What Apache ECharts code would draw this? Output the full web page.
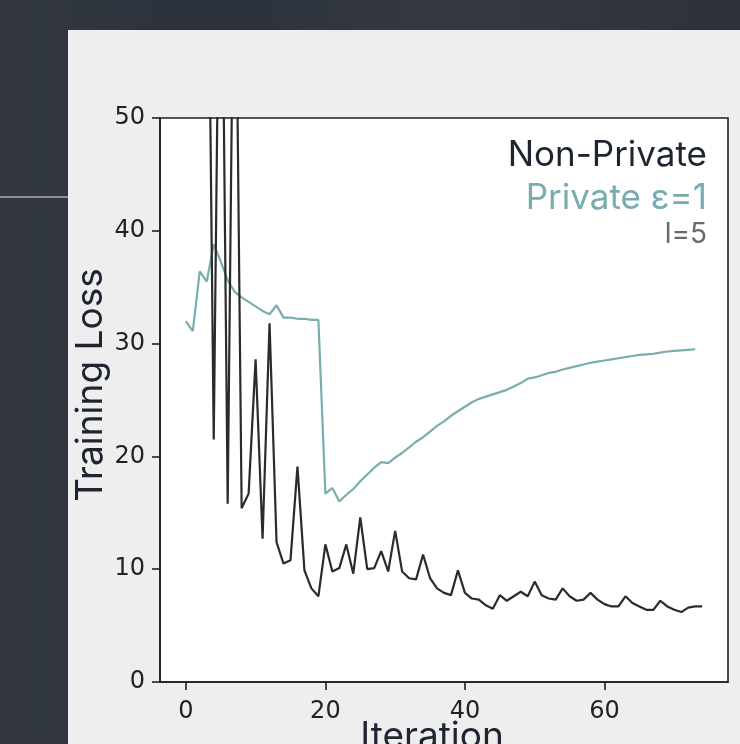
<!DOCTYPE html>
<html>
<head>
<meta charset="utf-8">
<script src="https://cdn.jsdelivr.net/npm/echarts@6/dist/echarts.min.js"></script>
<style>
  html, body { margin: 0; padding: 0; width: 740px; height: 744px; overflow: hidden;
    background: linear-gradient(90deg, #32373f 0%, #2b323c 30%, #353941 60%, #2d3139 100%); }
  #panel { position: absolute; left: 68px; top: 30px; width: 672px; height: 714px; background: #eeeeee; }
  #rule { position: absolute; left: 0; top: 196px; width: 68px; height: 2px; background: #8c8f94; }
  #chart { position: absolute; left: 0; top: 0; width: 740px; height: 744px; }
</style>
</head>
<body>
<div id="panel"></div>
<div id="rule"></div>
<div id="chart"></div>
<script>
// Iteration indices
const iterations = [0,1,2,3,4,5,6,7,8,9,10,11,12,13,14,15,16,17,18,19,20,21,22,23,24,25,26,27,28,29,
  30,31,32,33,34,35,36,37,38,39,40,41,42,43,44,45,46,47,48,49,50,51,52,53,54,55,56,57,58,59,
  60,61,62,63,64,65,66,67,68,69,70,71,72,73,74];

// Non-Private training loss (first values are off the top of the chart)
const nonPrivate = [140,120,100,80,21.5,78,15.8,75,15.4,16.7,28.6,12.7,31.8,12.4,10.5,10.8,19.1,9.9,8.3,7.6,
  12.2,9.8,10.1,12.2,9.6,14.6,10.0,10.1,11.6,9.8,13.4,9.8,9.2,9.1,11.3,9.2,8.3,7.9,7.7,9.9,
  7.9,7.4,7.3,6.8,6.5,7.7,7.2,7.6,8.0,7.6,8.9,7.7,7.4,7.3,8.3,7.6,7.2,7.3,7.9,7.3,
  6.9,6.7,6.7,7.6,7.0,6.7,6.4,6.4,7.2,6.7,6.4,6.2,6.6,6.7,6.7];

// Private (epsilon = 1) training loss
const privateEps1 = [32.0,31.1,36.4,35.5,38.8,37.3,35.6,34.6,34.1,33.7,33.3,32.9,32.6,33.4,32.3,32.3,32.2,32.2,32.1,32.1,
  16.7,17.2,16.0,16.6,17.1,17.8,18.4,19.0,19.5,19.4,19.9,20.3,20.8,21.3,21.7,22.2,22.7,23.1,23.6,24.0,
  24.4,24.8,25.1,25.3,25.5,25.7,25.9,26.2,26.5,26.9,27.0,27.2,27.4,27.5,27.7,27.85,28.0,28.15,28.3,28.4,
  28.5,28.6,28.7,28.8,28.9,29.0,29.05,29.1,29.2,29.3,29.35,29.4,29.45,29.5];

const xTicks = [0,20,40,60];
const legendLines = ['Non-Private', 'Private \u03b5=1', 'l=5'];

const pair = (vals) => vals.map((v, i) => [iterations[i], v]);

const chart = echarts.init(document.getElementById('chart'));
const tickFont = { fontFamily: 'DejaVu Sans', fontSize: 24, color: '#222222' };

chart.setOption({
  animation: false,
  backgroundColor: 'transparent',
  grid: {
    left: 160, right: 12, top: 118, bottom: 62,
    show: true, backgroundColor: '#ffffff', borderColor: '#1e1e1e', borderWidth: 1.6,
    outerBoundsMode: 'none'
  },
  xAxis: {
    type: 'value', min: -3.7, max: 77.7,
    splitLine: { show: false },
    axisLine: { show: true, onZero: false, lineStyle: { color: '#1e1e1e', width: 1.6 } },
    axisTick: { show: true, length: 8, lineStyle: { color: '#1e1e1e', width: 1.6 }, customValues: xTicks },
    axisLabel: { ...tickFont, margin: 18, customValues: xTicks }
  },
  yAxis: {
    type: 'value', min: 0, max: 50, interval: 10,
    splitLine: { show: false },
    axisLine: { show: true, onZero: false, lineStyle: { color: '#1e1e1e', width: 1.6 } },
    axisTick: { show: true, length: 8, lineStyle: { color: '#1e1e1e', width: 1.6 } },
    axisLabel: { ...tickFont, margin: 15 }
  },
  series: [
    {
      name: 'Non-Private', type: 'line', data: pair(nonPrivate), symbol: 'none', clip: true,
      lineStyle: { color: '#2b2b2b', width: 2.2 }, z: 3
    },
    {
      name: 'Private \u03b5=1', type: 'line', data: pair(privateEps1), symbol: 'none', clip: true,
      lineStyle: { color: '#7aadad', width: 2.2 }, z: 2
    }
  ],
  graphic: [
    { type: 'text', x: 91, y: 385, rotation: Math.PI / 2,
      style: { text: 'Training Loss', font: '37px Inter', fill: '#1e2430', align: 'center', verticalAlign: 'middle' } },
    { type: 'text', x: 432, y: 737,
      style: { text: 'Iteration', font: '37px Inter', fill: '#1e2430', align: 'center', verticalAlign: 'middle' } },
    { type: 'text', x: 707, y: 155,
      style: { text: legendLines[0], font: '35px Inter', fill: '#1e2430', align: 'right', verticalAlign: 'middle' } },
    { type: 'text', x: 707, y: 198,
      style: { text: legendLines[1], font: '35px Inter', fill: '#77adb0', align: 'right', verticalAlign: 'middle' } },
    { type: 'text', x: 707, y: 235,
      style: { text: legendLines[2], font: '28px Inter', fill: '#666a70', align: 'right', verticalAlign: 'middle' } }
  ]
});
</script>
</body>
</html>
